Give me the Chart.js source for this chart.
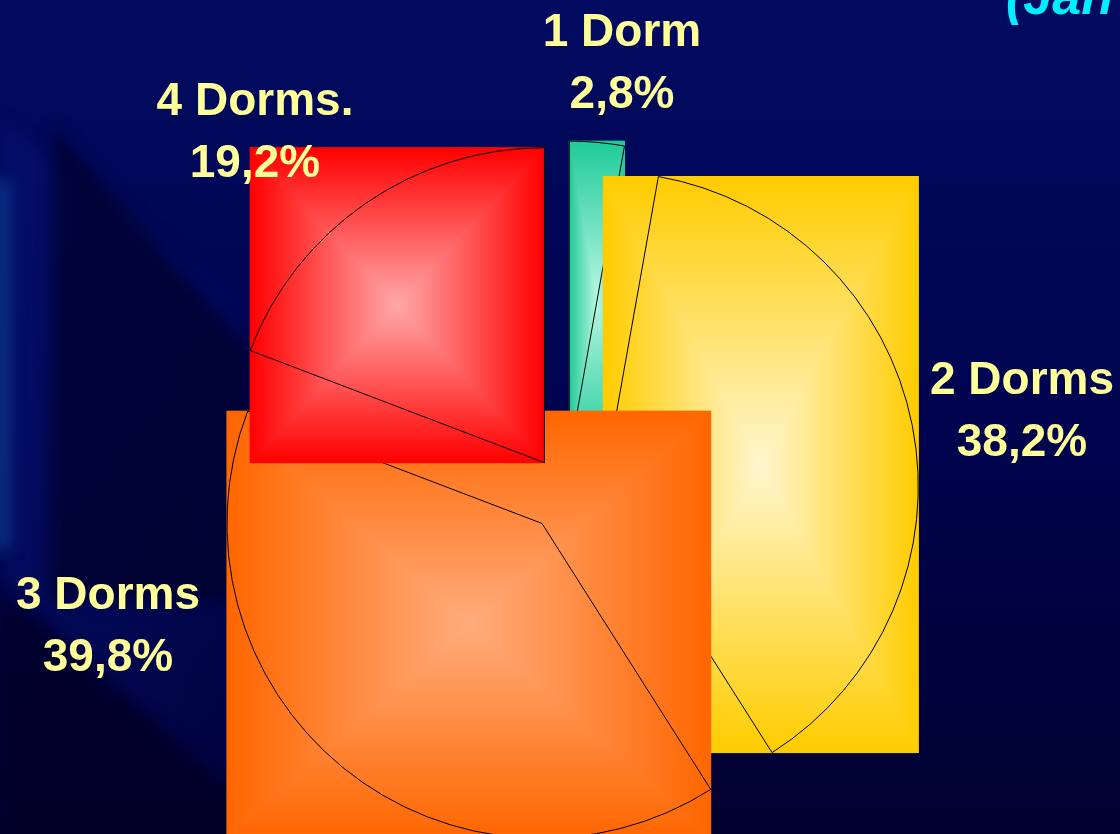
<!DOCTYPE html>
<html>
<head>
<meta charset="utf-8">
<script src="https://cdn.jsdelivr.net/npm/chart.js@4.4.1/dist/chart.umd.min.js"></script>
<style>
  html, body { margin: 0; padding: 0; background: #000040; }
  #wrap { width: 1120px; height: 834px; }
</style>
</head>
<body>
<div id="wrap"><canvas id="dormChart" width="1120" height="834"></canvas></div>
<script>
// apartment mix by number of bedrooms
var categories = ['1 Dorm', '2 Dorms', '3 Dorms', '4 Dorms.'];
var shares = [2.8, 38.2, 39.8, 19.2];
var periodText = '(Jan';

// edge / centre colours of each slice's box gradient
var edgeColors = ['#1fcb97', '#ffcc00', '#ff6600', '#ff0000'];
var centerColors = ['#b8f6e2', '#fff6cf', '#ffac7c', '#ffa8a8'];

// label anchors: centre x and first baseline
var labelAnchors = [[622, 46], [1022, 394], [108, 609], [255, 115]];

var EXPLODE = 38;
var LABEL_FONT = 'bold 46px "Liberation Sans", Arial, sans-serif';

function pctText(v) {
  return v.toFixed(1).replace('.', ',') + '%';
}

// bounding box of a pie sector (centre, both ends and any axis crossing)
function arcBounds(x, y, start, end, r) {
  var xs = [x, x + Math.cos(start) * r, x + Math.cos(end) * r];
  var ys = [y, y + Math.sin(start) * r, y + Math.sin(end) * r];
  for (var k = -1; k <= 3; k++) {
    var a = k * Math.PI / 2;
    if (a >= start - 1e-9 && a <= end + 1e-9) {
      xs.push(x + Math.cos(a) * r);
      ys.push(y + Math.sin(a) * r);
    }
  }
  return {
    l: Math.min.apply(null, xs), r: Math.max.apply(null, xs),
    t: Math.min.apply(null, ys), b: Math.max.apply(null, ys)
  };
}

// rectangular "from centre" gradient: four triangles meeting in the middle
function fillBox(ctx, b, edge, mid) {
  var cx = (b.l + b.r) / 2, cy = (b.t + b.b) / 2;
  ctx.fillStyle = edge;
  ctx.fillRect(b.l, b.t, b.r - b.l, b.b - b.t);
  var parts = [
    [[b.l, b.t], [b.r, b.t], [cx, b.t]],
    [[b.r, b.t], [b.r, b.b], [b.r, cy]],
    [[b.r, b.b], [b.l, b.b], [cx, b.b]],
    [[b.l, b.b], [b.l, b.t], [b.l, cy]]
  ];
  parts.forEach(function (p) {
    var g = ctx.createLinearGradient(p[2][0], p[2][1], cx, cy);
    g.addColorStop(0, edge);
    g.addColorStop(1, mid);
    ctx.fillStyle = g;
    ctx.beginPath();
    ctx.moveTo(p[0][0], p[0][1]);
    ctx.lineTo(p[1][0], p[1][1]);
    ctx.lineTo(cx, cy);
    ctx.closePath();
    ctx.fill();
    ctx.strokeStyle = g;
    ctx.lineWidth = 1;
    ctx.stroke();
  });
}

var backdrop = {
  id: 'backdrop',
  beforeDraw: function (chart) {
    var ctx = chart.ctx, w = chart.width, h = chart.height;
    ctx.save();
    var g = ctx.createLinearGradient(0, 0, 0, h);
    g.addColorStop(0, '#020b60');
    g.addColorStop(0.5, '#00044f');
    g.addColorStop(1, '#00002f');
    ctx.fillStyle = g;
    ctx.fillRect(0, 0, w, h);

    ctx.filter = 'blur(8px)';
    // slightly lighter panel on the left, fading out to the right
    var pg = ctx.createLinearGradient(0, 0, 240, 0);
    pg.addColorStop(0, 'rgba(6, 20, 120, 0.5)');
    pg.addColorStop(1, 'rgba(6, 20, 120, 0.15)');
    ctx.fillStyle = pg;
    ctx.beginPath();
    ctx.moveTo(0, 120); ctx.lineTo(240, 300); ctx.lineTo(240, 800);
    ctx.lineTo(0, 580); ctx.closePath(); ctx.fill();
    // dark wedge
    ctx.fillStyle = 'rgba(0, 0, 40, 0.7)';
    ctx.beginPath();
    ctx.moveTo(54, 128); ctx.lineTo(250, 350); ctx.lineTo(250, 600);
    ctx.lineTo(48, 600); ctx.closePath(); ctx.fill();
    // bright strip at the very edge
    ctx.fillStyle = 'rgba(14, 64, 150, 0.7)';
    ctx.fillRect(-10, 180, 20, 370);
    // darker corner below the diagonal
    ctx.fillStyle = 'rgba(0, 0, 40, 0.8)';
    ctx.beginPath();
    ctx.moveTo(0, 600); ctx.lineTo(40, 625); ctx.lineTo(240, 800);
    ctx.lineTo(240, 860); ctx.lineTo(0, 860); ctx.closePath(); ctx.fill();
    ctx.restore();
  }
};

var boxSlices = {
  id: 'boxSlices',
  beforeDatasetsDraw: function (chart) {
    var ctx = chart.ctx;
    var meta = chart.getDatasetMeta(0);
    meta.data.forEach(function (el, i) {
      var p = el.getProps(['x', 'y', 'startAngle', 'endAngle', 'outerRadius'], true);
      var mid = (p.startAngle + p.endAngle) / 2;
      var dx = Math.cos(mid) * EXPLODE, dy = Math.sin(mid) * EXPLODE;
      var box = arcBounds(p.x + dx, p.y + dy, p.startAngle, p.endAngle, p.outerRadius);
      ctx.save();
      fillBox(ctx, box, edgeColors[i], centerColors[i]);
      ctx.restore();
      ctx.save();
      ctx.translate(dx, dy);
      el.draw(ctx, chart.chartArea);
      ctx.restore();
    });
    return false;
  }
};

var sliceLabels = {
  id: 'sliceLabels',
  afterDraw: function (chart) {
    var ctx = chart.ctx;
    ctx.save();
    ctx.font = LABEL_FONT;
    ctx.fillStyle = '#ffff99';
    ctx.textAlign = 'center';
    ctx.textBaseline = 'alphabetic';
    categories.forEach(function (name, i) {
      var a = labelAnchors[i];
      ctx.fillText(name, a[0], a[1]);
      ctx.fillText(pctText(shares[i]), a[0], a[1] + 62);
    });
    ctx.font = 'italic bold 52px "Liberation Sans", Arial, sans-serif';
    ctx.fillStyle = '#00eeff';
    ctx.textAlign = 'left';
    ctx.fillText(periodText, 1006, 14);
    ctx.restore();
  }
};

new Chart(document.getElementById('dormChart'), {
  type: 'pie',
  data: {
    labels: categories,
    datasets: [{
      data: shares,
      backgroundColor: 'rgba(0,0,0,0)',
      borderColor: '#000000',
      borderWidth: 1,
      hoverOffset: 0,
      clip: false
    }]
  },
  options: {
    responsive: false,
    animation: false,
    events: [],
    radius: 315,
    layout: { padding: { top: 154, left: 12, right: 0, bottom: 0 } },
    plugins: {
      legend: { display: false },
      tooltip: { enabled: false },
      title: { display: false }
    }
  },
  plugins: [backdrop, boxSlices, sliceLabels]
});
</script>
</body>
</html>
